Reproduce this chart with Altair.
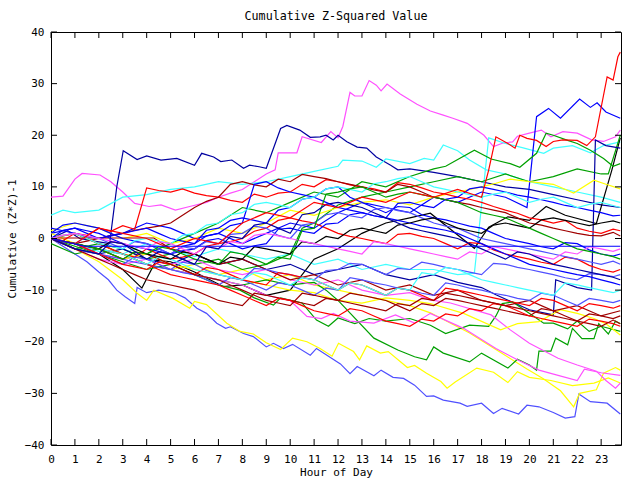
import altair as alt
import pandas as pd

X_TICKS = list(range(24))
Y_TICKS = [-40, -30, -20, -10, 0, 10, 20, 30, 40]
HALF = [i / 2 for i in range(48)] + [23.8]

RED = "#ff0000"; DRED = "#a00000"; GREEN = "#00a000"; BLUE = "#0000ff"
NAVY = "#0000a0"; LBLUE = "#5050ff"; YELLOW = "#ffff00"; CYAN = "#40ffff"
MAGENTA = "#ff50ff"; BLACK = "#000000"

magenta_top = [(0,8),(0.5,8.2),(1,11.5),(1.3,12.6),(2.05,12.3),(2.5,11),(3,9),(3.5,6.8),(4.1,6.2),(4.6,6.5),(5.2,5.5),(5.8,6.2),(6.5,7),(7,8),(7.5,8.8),(8,9.5),(8.5,11),(9,12.5),(9.37,13.3),(9.5,16.6),(10.28,16.6),(10.5,19.7),(11.3,18.6),(11.7,20.7),(12,19.5),(12.2,21.7),(12.5,28.3),(12.7,27.6),(13,27.6),(13.3,30.6),(13.6,29.7),(13.8,28.6),(14.05,29.9),(14.6,28),(15.3,26),(15.86,24.7),(16.4,23.9),(16.8,23.3),(17.4,22.3),(18.1,20),(18.5,17.8),(18.9,18.5),(19.3,18.7),(19.5,19.8),(20,20.4),(20.5,21),(20.9,19.7),(21.4,20.7),(22,20.4),(22.6,19.1),(23.1,18.8),(23.6,19.7),(23.8,21)]
navy_jump = [(0,0),(0.7,1.5),(1.2,0),(1.8,-0.5),(2.45,-1),(2.75,10),(3.02,17),(3.6,15.3),(4,16),(4.6,15.2),(5.26,15.5),(6,14.2),(6.3,16.5),(6.8,15.8),(7.1,14.9),(7.56,15.2),(8.05,13.6),(8.3,14.2),(8.7,13.9),(9.0,13.6),(9.6,21.3),(9.86,21.9),(10.4,21),(10.84,19.6),(11.25,19.7),(11.5,20),(11.8,19.1),(12,20),(12.37,18.75),(12.8,17.7),(13.2,17.5),(13.6,15.8),(14.2,14.2),(14.5,13.3),(15,13.5),(16,12.8),(17,12),(18,11),(19,10),(20,9.5),(21,8.5),(22,7.5),(23,6.5),(23.8,6)]
blue_bottom = [(0,0),(0.5,-1.5),(1,-3),(1.5,-4.5),(2,-6.5),(2.4,-8),(2.75,-10),(3.1,-11.3),(3.5,-12.6),(3.6,-9.5),(4,-10.5),(4.5,-10),(5.2,-10.6),(5.6,-11.5),(6.1,-13.5),(6.5,-14.5),(6.93,-16.4),(7.3,-17.4),(7.5,-17.1),(8.05,-18.4),(8.46,-19),(9.0,-21),(9.3,-20.3),(9.72,-21.3),(10.1,-20.5),(10.84,-22.6),(11.1,-21.3),(12.1,-24.3),(12.5,-26.2),(12.8,-24.8),(13.5,-26.6),(13.8,-25.5),(14.3,-26.9),(14.74,-27.1),(15.2,-28.4),(15.7,-30.6),(16,-30.5),(16.4,-31.3),(17.1,-31.9),(17.4,-32.5),(18,-31.9),(18.5,-33.9),(18.86,-32.9),(19.55,-34),(19.9,-32.3),(20.4,-32.6),(21,-33.7),(21.5,-34.8),(21.9,-34.5),(22.07,-30.1),(22.55,-31.6),(23.25,-31.9),(23.8,-34)]
yellow_low = [(0,0),(1,-2),(2,-4.5),(3,-8),(3.6,-10.6),(4,-12),(4.3,-10),(5.1,-11.6),(5.8,-13.5),(6.0,-12.2),(6.5,-12.8),(7.35,-16.4),(7.9,-18),(8.46,-18.5),(9,-20.2),(9.6,-21.5),(10.1,-19.3),(10.7,-20),(11.25,-21.3),(11.75,-22.8),(12.02,-20.3),(12.65,-21.9),(12.9,-23.5),(13.2,-20.8),(13.77,-22.2),(14.1,-21.9),(14.9,-25),(15.2,-24.6),(15.7,-26.1),(16.3,-27.7),(16.56,-29),(16.9,-27.8),(17.8,-25.1),(18.5,-25.9),(19.1,-27.9),(19.5,-25.8),(20,-26.9),(20.9,-27.5),(21.8,-28.5),(22.7,-28),(23.3,-27),(23.8,-28)]
yellow_mid = [(0,0),(1,1),(2,-1),(3,-3),(4,-4),(5,-6),(6,-5),(7,-7),(8,-6),(9,-8),(10,-7),(11,-9),(12,-10),(13,-11),(14,-12),(15,-13),(15.86,-14.4),(17.5,-18.3),(18.6,-21.5),(19.9,-25.3),(20.6,-27.2),(21.3,-29.5),(21.85,-32.6),(22.1,-30),(22.8,-29.3),(23.1,-26.1),(23.6,-25),(23.8,-25.5)]
red_spike = [(0,0),(1,-1),(2,2),(3,1),(4,0),(5,-2),(6,0),(7,-1),(8,3),(9,5),(10,4),(11,7),(12,6),(13,8),(14,7),(15,9),(16,8),(17,9.5),(18,8),(18.3,13.3),(18.6,19.7),(19.1,18.4),(19.4,17.5),(19.6,20),(19.9,19.4),(20.3,19),(20.7,17.8),(21,18.8),(21.4,19.1),(22,19),(22.4,18),(22.76,19.7),(23.25,31.3),(23.5,30.7),(23.7,35.2),(23.8,36.1)]
cyan_top = [(0,4.5),(0.5,5.5),(1,5),(2,5.5),(3,8),(4,8.5),(5,9.5),(6,10),(7,11),(8,10.5),(9,11),(10,12),(11,13),(12,14),(12.2,15.2),(13,15),(13.6,13.8),(14,15.4),(15,14.5),(15.6,15.5),(16,15.2),(16.4,18.1),(17,17),(17.5,15.2),(18.2,13.3),(19,12.5),(20,11),(21,10),(22,9),(23,8),(23.8,7)]
cyan_jump = [(0,0),(1,-1),(2,-2.5),(3,-3),(4,-1),(5,-2),(6,-3.5),(7,-2),(8,-3),(9,-4),(10,-3),(11,-5),(12,-4),(13,-6),(14,-5),(15,-6),(16,-6),(17,-7),(17.7,-6.7),(18.3,19.5),(19,18.4),(19.7,17.6),(20.6,16.5),(21,17.5),(21.8,18),(22.55,16.6),(23.1,18),(23.8,18.7)]
black_end = [(0,0),(1,-2),(2,-3),(3,-6),(3.8,-9.6),(4.4,-4.2),(5,-4.5),(6,-6.5),(7.2,-9.3),(8,-9),(9,-11),(10,-10),(11,-4),(12,-2),(13,1),(14,3),(15,4),(15.86,4.9),(17.7,-1.9),(18.3,2.2),(19.1,4.2),(20,3.5),(20.7,6.2),(21.5,4.5),(22.8,2.9),(23.45,13.3),(23.8,19.5)]
green_end = [(0,0),(1,1),(2,-1),(3,-2),(4,-4),(5,-3),(6,-5),(7,-4),(8,-6),(9,-5),(10,-3),(10.5,2),(11,3),(12,6.5),(13,8),(14,9),(15,10),(16,11),(17,12),(18,11),(19,12.5),(20,11),(21,12),(22,13.5),(23,12.5),(23.3,12.5),(23.8,20)]
blue_rise = [(0,1),(1,2),(2,0),(3,1),(4,3),(5,2),(6,0),(7,1),(8,-1),(9,1),(10,3),(11,2),(12,5),(13,7),(14,6),(15,5),(16,8),(17,7),(18,9),(19,8),(19.9,6),(20.3,23.6),(20.8,25.2),(21.3,23.3),(22.1,27),(22.55,25.4),(22.83,26.3),(23.2,24.5),(23.8,23.3)]
navy_late = [(0,0),(1,-1),(2,-3),(3,-2),(4,-4),(5,-5),(6,-3),(7,-5),(8,-4),(9,-6),(10,-5),(11,-7),(12,-6),(13,-5),(14,-7),(15,-8),(16,-7),(17,-8.5),(18,-9.5),(18.6,-10.9),(20,-13.8),(21,-14.8),(21.1,-8),(22,-9.5),(22.6,-10),(22.76,19.1),(23.2,18),(23.8,17.5)]
green_top = [(0,-1),(1,-3),(2,-2),(3,-4),(4,-3),(5,-1),(6,1),(7,3),(8,6),(9,5),(10,7),(11,9),(12,8),(13,11),(14,10),(15,12),(16,13.5),(16.5,14),(17.7,17.1),(18.4,15.4),(19.2,14.5),(19.6,13.8),(20.3,16.5),(20.7,20.4),(21,20),(21.6,19),(22,18.4),(22.55,17.1),(23.1,15.5),(23.5,14),(23.8,14.5)]
yellow_high = [(0,1.5),(1,3),(2,2),(3,0),(4,1),(5,-1),(6,0),(7,2),(8,1),(9,3),(10,5.5),(11,4.5),(12,6),(13,7),(14,7.5),(15,6.5),(16,8),(17,9),(18,10),(18.6,10.7),(19.2,11.5),(20,11),(21,10.5),(21.85,8.8),(22.7,11.3),(23.2,10.5),(23.8,9.6)]
blue_flat = [(0,0),(0.5,-0.5),(1.4,-1.5),(23.8,-1.5)]
green_bottom = [(0,0),(1,-1.5),(2,-3),(3,-4.5),(4,-6),(5,-5),(6,-7),(7,-8),(8,-9),(9,-8),(10,-9),(11,-8.5),(11.5,-10),(12,-12),(13.5,-19.3),(14.5,-21.6),(15.2,-22.9),(15.7,-23.5),(16,-21),(16.4,-22.2),(17.5,-23.9),(18,-22.2),(19.1,-25.1),(19.5,-23.4),(20,-24.5),(20.3,-25.5),(20.4,-21.8),(20.9,-21.8),(21.1,-19.3),(21.6,-20.6),(21.8,-17.4),(22.2,-19.4),(22.7,-19.4),(22.9,-16.5),(23.3,-18.5),(23.6,-16),(23.8,-16.5)]
green_mid = [(0,0),(1,-2),(2,-1),(3,-3),(4,-5),(5,-6),(6,-7),(7,-9),(7.9,-10),(8.5,-11.5),(9.3,-12.9),(9.6,-11.5),(10.5,-12.5),(11.1,-15.8),(11.6,-17),(12,-15.4),(12.7,-16.5),(13.3,-15.5),(14,-16),(15,-15.5),(15.86,-16.8),(16.5,-18.4),(17.5,-16.8),(18.3,-17),(18.6,-15),(18.86,-12.6),(19.3,-12.3),(20.6,-16.4),(21,-16.4),(21.6,-17.5),(22,-16),(22.5,-18),(23,-17),(23.8,-18)]
magenta_low1 = [(0,0),(1,-2),(2,-4),(3,-5),(4,-4),(5,-6),(6,-7),(7,-8),(8,-9),(9,-11),(10,-12),(10.7,-15.1),(11.3,-15.5),(11.8,-14.5),(12.5,-16),(13.5,-16.4),(14.4,-14.8),(15.2,-16.4),(15.86,-14.5),(17.25,-17.4),(18.6,-21.3),(19.5,-23.5),(20.4,-25.5),(21.2,-26.5),(22,-27.5),(22.3,-25.3),(23,-26),(23.8,-26.5)]
magenta_low2 = [(0,0),(1,-1),(2,-3),(3,-4),(4,-3),(5,-5),(6,-4),(7,-6),(8,-7),(9,-6),(10,-8),(11,-9),(12,-8),(13,-10),(14,-11),(15,-10.5),(15.86,-11.9),(16.7,-12.5),(18.4,-14.8),(19.2,-17.7),(20,-20.3),(21.2,-23.2),(22,-24.5),(22.8,-25.7),(23.2,-27.5),(23.6,-29),(23.8,-28)]
yellow_3 = [(0,1),(1,-1),(2,-2),(3,-4),(4,-3),(5,-5),(6,-6),(7,-7),(8,-8),(9,-9),(10,-10),(11,-10.5),(12,-12),(13,-12.5),(14,-11.5),(15,-12),(15.86,-12.6),(17.25,-14.5),(18.8,-17.7),(19.5,-16.5),(20.4,-16.1),(21.3,-13.8),(22,-14.5),(22.7,-15.5),(23.2,-16.5),(23.8,-18.7)]
dark_flat = [(0,0),(0.3,0.1),(4.3,0.1),(5,-2),(6,-3),(7,-5),(8,-4),(9,-6),(10,-8),(11,-7),(12,-9),(13,-8),(14,-10),(15,-9),(16,-11),(17,-10),(18,-12),(19,-13),(20,-12),(21,-14),(22,-13),(23,-15),(23.8,-14)]

# half-hourly series (values at 0, 0.5, ..., 23.5, 23.8)
red_up = [0,-0.4,1,0.6,2,1.4,2.5,1.8, 9.8,9.3,9,9.6,8.8,8.3,8,7.4, 7,8.6,8,8.8,9,10.5,10,11.4,
          11,10.4,10,9.6,9,10.8,10.5,9.8, 9,8.6,8,7.6,7,6.2,5.5,4.9, 4,3.6,3,3.5,2,1.4,1,1.8, 1.5]
dred_up = [0,-0.6,-1,-0.5,0,0.6,1,1.6, 2,2.4,3,4.5,6,7.2,8,10.5, 11,10.4,10,11.5,11,12.4,12,11.6,
           11,10.5,10,9.4,9,10.5,10,9, 8,7.5,7,6.6,6,5.5,5,4, 3,2.6,2,1.5,1,0.6,0.5,1.2, 0.5]
red_b = [0,-0.5,-1,-1.6,-2,-2.5,-3,-3.6, -2,-3,-4,-3.6,-3,-1.5,-1,-0.6, 0,1.4,2,3.5,4,3.4,3,2,
         1,0.4,0,-0.5,-1,0.8,1,0.4, 0,-1,-2,-0.8,-1,-2.2,-3,-3.5, -4,-4.6,-5,-3.6,-4,-5.2,-6,-6.5, -6]
lblue_1 = [0,-0.6,-1,-2,-3,-3.5,-4,-4.6, -5,-5.6,-6,-4.6,-5,-6.2,-7,-7.5, -8,-5.8,-6,-6.6,-7,-7.6,-8,-6.2,
           -6,-4.8,-5,-6,-7,-5.8,-6,-4.6, -5,-5.6,-6,-6.5,-7,-4.8,-5,-5.6, -6,-6.5,-7,-7.6,-8,-6.8,-7,-7.4, -7]
blue_1 = [2,1.5,1,0.4,0,0.6,1,1.5, 2,1,0,-0.5,-1,0.5,1,2.5, 3,10.5,11,9.8,9,8.5,8,7,
          6,5.5,5,4.4,4,3.5,3,2.4, 2,1.6,1,0,-1,-2,-3,-4, -5,-5.5,-6,-6.5,-7,-7.4,-8,-8.6, -9]
blue_2 = [0,1.6,2,1.5,1,0,-1,-1.6, -2,-2.5,-3,-1.5,-1,1.6,2,3.5, 4,3.5,3,5.5,6,7.6,8,9.6,
          10,8,7,6,5,6.2,6,4.6, 4,3.6,3,2.4,2,1,0,-0.5, -1,-1.6,-2,-0.8,-1,-2.2,-3,-3.4, -3]
blue_3 = [1,2.6,3,2.5,2,1,0,-0.5, -1,-2,-3,-2.4,-2,-0.4,0,-1, -2,-1.4,-1,1.8,2,1.4,1,2.8,
          3,4.6,5,4.4,4,6.8,7,6.4, 6,7.6,8,9.6,10,9.5,9,8.4, 8,7.5,7,6.4,6,5.5,5,4.4, 4.5]
lblue_2 = [0,-1,-2,-2.6,-3,-4,-5,-3.6, -4,-5,-6,-6.6,-7,-8,-9,-7.6, -8,-9,-10,-8.6,-9,-10,-11,-9.6,
           -10,-7.6,-8,-8.6,-9,-9.6,-10,-10.6, -11,-8.6,-9,-9.6,-10,-10.6,-11,-11.6, -12,-10.6,-11,-12,-13,-11.6,-12,-12.4, -12]
lblue_3 = [0,-0.6,-1,0.4,0,-1,-2,-0.6, -1,-2,-3,-1.6,-2,-0.6,-1,0.8, 1,2.4,2,0.6,0,2.6,3,4.6,
           5,4.4,4,5.6,6,5.4,5,4, 3,2.4,2,1,0,-0.5,-1,-1.5, -2,-2.5,-3,-3.5,-4,-4.5,-5,-4.4, -5]
red_3 = [0,-0.5,-1,-2,-3,-4,-5,-5.5, -6,-4.6,-5,-6,-7,-5.6,-6,-7, -8,-8.5,-9,-6.6,-7,-7.5,-8,-9,
         -10,-8.6,-9,-10,-11,-9.6,-10,-11, -12,-9.6,-10,-10.5,-11,-11.5,-12,-12.5, -13,-11.6,-12,-13,-14,-12.6,-13,-13.5, -13]
dred_2 = [0,-1,-2,-3,-4,-5,-6,-7, -8,-8.5,-9,-9.5,-10,-11,-12,-12.5, -13,-10.6,-11,-11.5,-12,-12.5,-13,-11.6,
          -12,-10.6,-11,-11.5,-12,-13,-14,-12.6, -13,-11.6,-12,-12.5,-13,-13.5,-14,-14.5, -15,-13.6,-14,-15,-16,-14.6,-15,-15.5, -15]
red_4 = [0,0.6,1,0,-1,-2,-3,-4, -5,-6,-7,-7.5,-8,-8.5,-9,-10, -11,-12,-13,-11.6,-12,-13,-14,-14.5,
         -15,-13.6,-14,-15,-16,-16.5,-17,-15.6, -16,-14.6,-15,-13.6,-14,-12.6,-13,-14, -15,-15.5,-16,-16.5,-17,-15.6,-16,-16.5, -17]
dred_3 = [0,-0.5,-1,-1.5,-2,-3,-4,-2.6, -3,-4,-5,-6,-7,-7.5,-8,-9, -10,-11,-12,-12.5,-13,-10.6,-11,-11.5,
          -12,-12.5,-13,-13.5,-14,-12.6,-13,-11.6, -12,-10.6,-11,-11.5,-12,-12.5,-13,-13.5, -14,-14.5,-15,-15.5,-16,-16.5,-17,-15.8, -16.5]
cyan_3 = [0,0.6,1,0,-1,-1.5,-2,-0.4, 0,-0.5,-1,0.6,1,2.6,3,4.6, 5,6.6,7,6.5,6,7.6,8,9.6,
          10,9.5,9,10.6,11,11.6,12,11, 10,9.5,9,8.5,8,8.6,9,8, 7,7.6,8,7,6,6.6,7,6.4, 6]
cyan_4 = [0,-0.5,-1,-1.5,-2,-2.5,-3,-4, -5,-3.6,-4,-5,-6,-6.5,-7,-7.5, -8,-6.6,-7,-8,-9,-7.6,-8,-9,
          -10,-8.6,-9,-10,-11,-9.6,-10,-6.6, -7,-5.6,-6,-7,-8,-8.5,-9,-9.5, -10,-10.5,-11,-8.6,-9,-9.5,-10,-10.5, -10]
black_2 = [0,-0.5,-1,-1.5,-2,-0.6,-1,-2, -3,-3.5,-4,-2.6,-3,-4,-5,-3.6, -4,-1.6,-2,-2.5,-3,-0.6,-1,0.4,
           0,1.6,2,1.5,1,2.6,3,3.6, 4,3,2,1.5,1,2.6,3,2.5, 2,3.6,4,3.5,3,2.5,3,3.4, 3]
magenta_3 = [0,0.6,1,0.5,0,-0.5,-1,-1.5, -2,-0.6,-1,-2,-3,-1.6,-2,-0.6, -1,0.6,1,0.5,0,-0.5,-1,-1.5,
             -2,-2.5,-3,-0.6,-1,-1.5,-2,-2.5, -3,-3.5,-4,-2.6,-3,-1.6,-2,-2.5, -3,-3.5,-4,-2.6,-3,-1.6,-2,-2.5, -2]
green_4 = [0,-0.5,-1,-1.5,-2,-3,-4,-2.6, -3,-1.6,-2,-3,-4,-4.5,-5,-2.6, -3,-4,-5,-3.6,-4,1.6,2,8.6,
           9,9.6,10,9,8,8.6,9,8.5, 8,7.5,7,6,5,4.5,4,3, 2,1,0,-1,-2,-2.5,-3,-3.5, -4]
navy_3 = [0,-1,-2,-2.5,-3,-0.6,-1,-2.5, -4,-2.6,-3,-4,-5,-1.6,-2,0.4, 0,2.6,3,2,1,4.6,5,6.6,
          7,6.5,6,5,4,3,2,1.5, 1,0.5,0,-1,-2,-3,-4,-2.6, -3,-4,-5,-5.5,-6,-6.5,-7,-7.5, -8]

PAIR_SERIES = [
    (MAGENTA, magenta_top), (NAVY, navy_jump), (LBLUE, blue_bottom), (YELLOW, yellow_low),
    (YELLOW, yellow_mid), (CYAN, cyan_top), (CYAN, cyan_jump), (BLACK, black_end),
    (GREEN, green_end), (BLUE, blue_rise), (NAVY, navy_late), (GREEN, green_top),
    (YELLOW, yellow_high), (GREEN, green_bottom), (GREEN, green_mid), (MAGENTA, magenta_low1),
    (MAGENTA, magenta_low2), (YELLOW, yellow_3), (DRED, dark_flat),
]
HALF_SERIES = [
    (RED, red_up), (DRED, dred_up), (RED, red_b), (LBLUE, lblue_1), (BLUE, blue_1),
    (BLUE, blue_2), (BLUE, blue_3), (LBLUE, lblue_2), (LBLUE, lblue_3), (RED, red_3),
    (DRED, dred_2), (RED, red_4), (DRED, dred_3), (CYAN, cyan_3), (CYAN, cyan_4),
    (BLACK, black_2), (MAGENTA, magenta_3), (GREEN, green_4), (NAVY, navy_3),
]
LAST_SERIES = [(RED, red_spike), (BLUE, blue_flat)]

rows = []
sid = 0
def add(color, pts):
    global sid
    for j, (h, v) in enumerate(pts):
        rows.append({"sid": sid, "hour": h, "value": v, "col": color, "ord": j})
    sid += 1

for c, p in PAIR_SERIES:
    add(c, p)
for c, vals in HALF_SERIES:
    add(c, list(zip(HALF, vals)))
for c, p in LAST_SERIES:
    add(c, p)

df = pd.DataFrame(rows)

W, H = 570, 413
FONT = "DejaVu Sans Mono"
XDOM = [0, 23.83]

X_AXIS = alt.Axis(values=X_TICKS, title="Hour of Day", labelPadding=8, titlePadding=2,
                  labelFlush=False, labelOverlap=False, labelBound=False)
Y_AXIS = alt.Axis(values=Y_TICKS, title="Cumulative (Z*Z)-1", labelPadding=7,
                  titleAngle=270, titleX=-39, titleY=H / 2,
                  titleAlign="center", titleBaseline="middle", labelOverlap=False)
X_SCALE = alt.Scale(domain=XDOM, nice=False, zero=False)
Y_SCALE = alt.Scale(domain=[-40, 40], nice=False)

def xenc():
    return alt.X("hour:Q", scale=X_SCALE, axis=X_AXIS)

def yenc():
    return alt.Y("value:Q", scale=Y_SCALE, axis=Y_AXIS)

lines = alt.Chart(df).mark_line(strokeWidth=1.2, clip=True).encode(
    x=xenc(), y=yenc(),
    color=alt.Color("col:N", scale=None),
    detail="sid:N",
    order="ord:Q",
)

xt = pd.DataFrame({"hour": X_TICKS})
yt = pd.DataFrame({"value": Y_TICKS})
tick = dict(color="black", strokeWidth=1)
top_ticks = alt.Chart(xt).mark_rule(**tick).encode(x=xenc(), y=alt.value(0), y2=alt.value(6))
bot_ticks = alt.Chart(xt).mark_rule(**tick).encode(x=xenc(), y=alt.value(H), y2=alt.value(H - 6))
left_ticks = alt.Chart(yt).mark_rule(**tick).encode(y=yenc(), x=alt.value(0), x2=alt.value(6))
right_ticks = alt.Chart(yt).mark_rule(**tick).encode(y=yenc(), x=alt.value(W), x2=alt.value(W - 6))

chart = alt.layer(lines, top_ticks, bot_ticks, left_ticks, right_ticks).properties(
    width=W, height=H,
    title=alt.TitleParams("Cumulative Z-Squared Value", font=FONT, fontSize=11.7,
                          fontWeight="normal", anchor="middle", frame="group",
                          offset=3, color="black"),
    autosize=alt.AutoSizeParams(type="none"),
    padding={"left": 51, "top": 32, "right": 19, "bottom": 35},
    background="white",
).configure_view(stroke="black", strokeWidth=1).configure_axis(
    labelFont=FONT, labelFontSize=11, labelColor="black",
    titleFont=FONT, titleFontSize=11, titleFontWeight="normal", titleColor="black",
    domain=False, ticks=False, tickSize=0, grid=False,
).configure_axisX(labelOverlap=False)

chart.save("out.html", embed_options={"renderer": "svg", "actions": False})
